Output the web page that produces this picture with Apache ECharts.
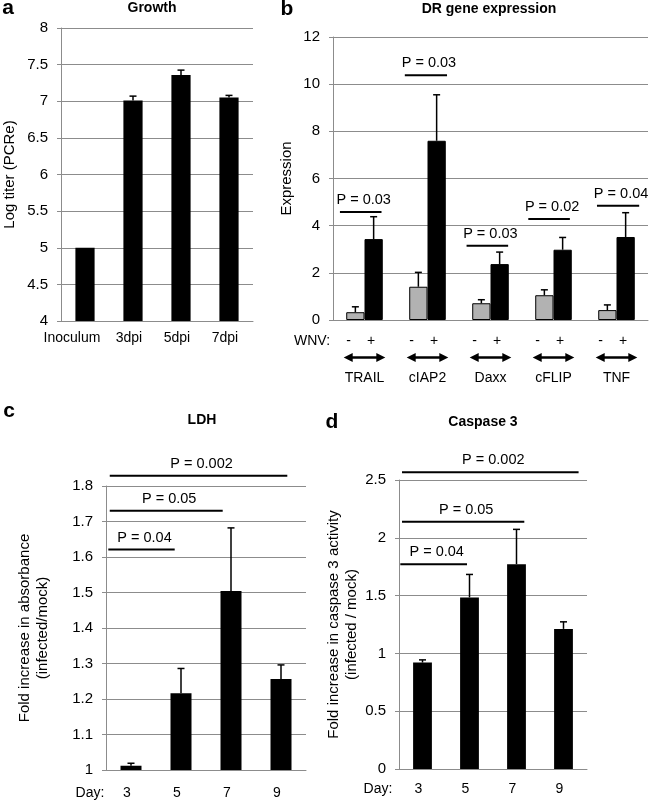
<!DOCTYPE html>
<html>
<head>
<meta charset="utf-8">
<script src="https://cdn.jsdelivr.net/npm/echarts@6/dist/echarts.min.js"></script>
<style>
html,body{margin:0;padding:0;background:#fff;}
#chart{width:650px;height:802px;}
</style>
</head>
<body>
<div id="chart"></div>
<script>
// ---------- data ----------
const growthCats = ['Inoculum', '3dpi', '5dpi', '7dpi'];
const growthVals = [5.0, 7.01, 7.36, 7.05];
const growthSd = [0, 0.06, 0.065, 0.03];
const growthTicks = [4, 4.5, 5, 5.5, 6, 6.5, 7, 7.5, 8];

const drGenes = ['TRAIL', 'cIAP2', 'Daxx', 'cFLIP', 'TNF'];
const drMock = [0.33, 1.41, 0.71, 1.05, 0.42];
const drMockSd = [0.23, 0.61, 0.15, 0.23, 0.22];
const drWnv = [3.43, 7.6, 2.37, 2.98, 3.52];
const drWnvSd = [0.95, 1.95, 0.51, 0.52, 1.03];
const drTicks = [0, 2, 4, 6, 8, 10, 12];
// bracket: [x start, x end, y level] and text
const drP = [[-0.39, 0.27, 4.58], [0.64, 1.31, 10.38], [1.62, 2.28, 3.15], [2.6, 3.26, 4.28], [3.69, 4.36, 4.84]];
const drPText = ['P = 0.03', 'P = 0.03', 'P = 0.03', 'P = 0.02', 'P = 0.04'];

const days = ['3', '5', '7', '9'];
const ldhVals = [1.012, 1.216, 1.504, 1.256];
const ldhSd = [0.007, 0.07, 0.178, 0.04];
const ldhTicks = [1, 1.1, 1.2, 1.3, 1.4, 1.5, 1.6, 1.7, 1.8];
const ldhP = [[-0.425, 3.126, 1.829], [-0.425, 1.834, 1.73], [-0.454, 0.874, 1.621]];
const ldhPText = ['P = 0.002', 'P = 0.05', 'P = 0.04'];

const caspVals = [0.921, 1.484, 1.772, 1.212];
const caspSd = [0.023, 0.199, 0.301, 0.061];
const caspTicks = [0, 0.5, 1, 1.5, 2, 2.5];
const caspP = [[-0.436, 3.321, 2.566], [-0.436, 2.166, 2.139], [-0.472, 0.947, 1.772]];
const caspPText = ['P = 0.002', 'P = 0.05', 'P = 0.04'];

// ---------- styling ----------
const FONT = "'Liberation Sans', Arial, sans-serif";
const GRID_COLOR = '#8c8c8c';

function tickStep(t) { return t[1] - t[0]; }

function valueY(idx, ticks, name, gap) {
  return {
    type: 'value', gridIndex: idx,
    min: ticks[0], max: ticks[ticks.length - 1], interval: tickStep(ticks),
    name: name, nameLocation: 'middle', nameGap: gap, nameRotate: 90,
    nameTextStyle: { fontFamily: FONT, fontSize: 15, color: '#000', lineHeight: 18 },
    axisLine: { show: true, onZero: false, lineStyle: { color: GRID_COLOR, width: 1 } },
    axisTick: { show: true, length: 4, lineStyle: { color: GRID_COLOR } },
    axisLabel: { fontFamily: FONT, fontSize: 15, color: '#000', margin: 13,
      formatter: v => String(Math.round(v * 100) / 100) },
    splitLine: { show: true, lineStyle: { color: GRID_COLOR, width: 1 } }
  };
}

function catX(idx, cats, margin, pads) {
  return {
    type: 'category', gridIndex: idx,
    data: cats.map((c, i) => ({ value: c, textStyle: { padding: [0, pads ? pads[i] : 0, 0, 0] } })),
    axisLine: { show: true, onZero: false, lineStyle: { color: GRID_COLOR, width: 1 } },
    axisTick: { show: false },
    axisLabel: { fontFamily: FONT, fontSize: 14, color: '#000', margin: margin, interval: 0 },
    splitLine: { show: false }
  };
}

function hiddenX(idx, n) {
  return { type: 'value', gridIndex: idx, min: -0.5, max: n - 0.5, show: false,
    axisLine: { show: false, onZero: false }, splitLine: { show: false } };
}

function errSeries(xi, yi, vals, sds, offsetSign, gapFrac) {
  return {
    type: 'custom', xAxisIndex: xi, yAxisIndex: yi, z: 5,
    data: vals.map((v, i) => [i, v, v + sds[i]]),
    encode: { x: 0, y: [1, 2] },
    renderItem: function (params, api) {
      const i = api.value(0);
      if (api.value(2) - api.value(1) <= 0) return null;
      const band = api.size([1, 0])[0];
      let off = 0;
      if (offsetSign !== 0) {
        const barW = band * (1 - gapFrac) / 2;
        off = offsetSign * barW / 2;
      }
      const lo = api.coord([i, api.value(1)]);
      const hi = api.coord([i, api.value(2)]);
      const x = lo[0] + off;
      const cap = 3.5;
      return {
        type: 'group',
        children: [
          { type: 'line', shape: { x1: x, y1: lo[1], x2: x, y2: hi[1] }, style: { stroke: '#000', lineWidth: 1.5 } },
          { type: 'line', shape: { x1: x - cap, y1: hi[1], x2: x + cap, y2: hi[1] }, style: { stroke: '#000', lineWidth: 1.5 } }
        ]
      };
    }
  };
}

function bracketSeries(xi, yi, brackets, texts) {
  return {
    type: 'custom', xAxisIndex: xi, yAxisIndex: yi, z: 6,
    data: brackets.map(b => [b[0], b[1], b[2]]),
    encode: { x: [0, 1], y: 2 },
    renderItem: function (params, api) {
      const p1 = api.coord([api.value(0), api.value(2)]);
      const p2 = api.coord([api.value(1), api.value(2)]);
      return {
        type: 'group',
        children: [
          { type: 'line', shape: { x1: p1[0], y1: p1[1], x2: p2[0], y2: p2[1] }, style: { stroke: '#000', lineWidth: 2 } },
          { type: 'text', x: (p1[0] + p2[0]) / 2 + 3, y: p1[1] - 12,
            style: { text: texts[params.dataIndex], fontSize: 14.5, fontFamily: FONT, fill: '#000', align: 'center', verticalAlign: 'middle' } }
        ]
      };
    }
  };
}

// arrows and -/+ markers below panel b categories
const wnvMarks = {
  type: 'custom', xAxisIndex: 1, yAxisIndex: 1, z: 6,
  data: drGenes.map((g, i) => [i, 0]),
  encode: { x: 0, y: 1 },
  renderItem: function (params, api) {
    const c = api.coord([api.value(0), 0]);
    const band = api.size([1, 0])[0];
    const half = band * 0.33;
    const ay = c[1] + 37.5;
    const x1 = c[0] - half, x2 = c[0] + half;
    const hl = 9, hw = 4.5;
    return {
      type: 'group',
      children: [
        { type: 'line', shape: { x1: x1 + 4, y1: ay, x2: x2 - 4, y2: ay }, style: { stroke: '#000', lineWidth: 2.6 } },
        { type: 'polygon', shape: { points: [[x1, ay], [x1 + hl, ay - hw], [x1 + hl, ay + hw]] }, style: { fill: '#000' } },
        { type: 'polygon', shape: { points: [[x2, ay], [x2 - hl, ay - hw], [x2 - hl, ay + hw]] }, style: { fill: '#000' } },
        { type: 'text', x: c[0] - 16, y: c[1] + 21, style: { text: '-', fontSize: 14, fontFamily: FONT, fill: '#000', align: 'center', verticalAlign: 'middle' } },
        { type: 'text', x: c[0] + 6.5, y: c[1] + 21, style: { text: '+', fontSize: 14, fontFamily: FONT, fill: '#000', align: 'center', verticalAlign: 'middle' } }
      ]
    };
  }
};

function txt(x, y, s, size, bold) {
  return { type: 'text', x: x, y: y,
    style: { text: s, fontSize: size, fontWeight: bold ? 'bold' : 'normal', fontFamily: FONT, fill: '#000', align: 'center', verticalAlign: 'middle' } };
}

const option = {
  animation: false,
  backgroundColor: '#fff',
  grid: [
    { left: 61, top: 28, width: 192, height: 293, outerBoundsMode: 'none', containLabel: false },
    { left: 333, top: 37, width: 315, height: 283, outerBoundsMode: 'none', containLabel: false },
    { left: 106, top: 486, width: 200, height: 284, outerBoundsMode: 'none', containLabel: false },
    { left: 399, top: 480, width: 188, height: 289, outerBoundsMode: 'none', containLabel: false }
  ],
  xAxis: [
    catX(0, growthCats, 10, [26, 8, 8, 8]),
    catX(1, drGenes, 51, null),
    catX(2, days, 16, [8, 8, 8, 8]),
    catX(3, days, 13, [8, 8, 8, 8]),
    hiddenX(1, drGenes.length),
    hiddenX(2, days.length),
    hiddenX(3, days.length)
  ],
  yAxis: [
    valueY(0, growthTicks, 'Log titer (PCRe)', 42),
    valueY(1, drTicks, 'Expression', 37),
    valueY(2, ldhTicks, 'Fold increase in absorbance\n(infected/mock)', 54),
    valueY(3, caspTicks, 'Fold increase in caspase 3 activity\n(infected / mock)', 37)
  ],
  series: [
    { type: 'bar', xAxisIndex: 0, yAxisIndex: 0, data: growthVals, barCategoryGap: '60%',
      itemStyle: { color: '#000' } },
    errSeries(0, 0, growthVals, growthSd, 0, 0),

    { type: 'bar', xAxisIndex: 1, yAxisIndex: 1, data: drMock, barGap: '0%', barCategoryGap: '42%',
      itemStyle: { color: '#b2b2b2', borderColor: '#000', borderWidth: 1 } },
    { type: 'bar', xAxisIndex: 1, yAxisIndex: 1, data: drWnv, barGap: '0%', barCategoryGap: '42%',
      itemStyle: { color: '#000', borderColor: '#000', borderWidth: 1 } },
    errSeries(1, 1, drMock, drMockSd, -1, 0.42),
    errSeries(1, 1, drWnv, drWnvSd, 1, 0.42),
    bracketSeries(4, 1, drP, drPText),
    wnvMarks,

    { type: 'bar', xAxisIndex: 2, yAxisIndex: 2, data: ldhVals, barCategoryGap: '58%',
      itemStyle: { color: '#000' } },
    errSeries(2, 2, ldhVals, ldhSd, 0, 0),
    bracketSeries(5, 2, ldhP, ldhPText),

    { type: 'bar', xAxisIndex: 3, yAxisIndex: 3, data: caspVals, barCategoryGap: '60%',
      itemStyle: { color: '#000' } },
    errSeries(3, 3, caspVals, caspSd, 0, 0),
    bracketSeries(6, 3, caspP, caspPText)
  ],
  graphic: [
    txt(8, 8, 'a', 21, true),
    txt(152, 8, 'Growth', 14, true),
    txt(287, 9, 'b', 21, true),
    txt(489, 9, 'DR gene expression', 14, true),
    txt(312, 341, 'WNV:', 14, false),
    txt(9, 411, 'c', 21, true),
    txt(202, 420, 'LDH', 14, true),
    txt(332, 422, 'd', 21, true),
    txt(483, 422, 'Caspase 3', 14, true),
    txt(90, 793, 'Day:', 14, false),
    txt(378, 789, 'Day:', 14, false)
  ]
};

const chart = echarts.init(document.getElementById('chart'), null, { renderer: 'canvas' });
chart.setOption(option);
</script>
</body>
</html>
